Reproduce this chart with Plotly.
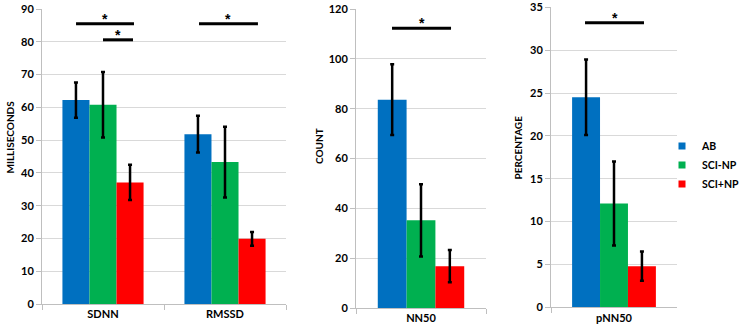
import plotly.graph_objects as go

# ---------------- data ----------------
groups = ["AB", "SCI-NP", "SCI+NP"]
colors = ["#0070C0", "#00B050", "#FF0000"]

left_cats = ["SDNN", "RMSSD"]
left_vals = {"AB": [62.2, 51.8], "SCI-NP": [60.8, 43.3], "SCI+NP": [37.1, 19.9]}
left_err = {"AB": [5.4, 5.6], "SCI-NP": [10.0, 10.8], "SCI+NP": [5.4, 2.1]}

mid_cats = ["NN50"]
mid_vals = {"AB": [83.6], "SCI-NP": [35.2], "SCI+NP": [16.8]}
mid_err = {"AB": [14.2], "SCI-NP": [14.5], "SCI+NP": [6.5]}

right_cats = ["pNN50"]
right_vals = {"AB": [24.5], "SCI-NP": [12.1], "SCI+NP": [4.8]}
right_err = {"AB": [4.4], "SCI-NP": [4.9], "SCI+NP": [1.7]}

# significance bars: (axis suffix, category index, y value, start offset, end offset)
sig_bars = [
    ("", 0, 85.5, -0.221, 0.254),
    ("", 0, 80.6, 0.0, 0.246),
    ("", 1, 85.5, -0.213, 0.27),
    ("2", 0, 112.3, -0.223, 0.231),
    ("3", 0, 33.2, -0.23, 0.238),
]

panels = [
    ("", left_cats, left_vals, left_err, "MILLISECONDS", [0, 90], 10),
    ("2", mid_cats, mid_vals, mid_err, "COUNT", [0, 120], 20),
    ("3", right_cats, right_vals, right_err, "PERCENTAGE", [0, 35], 5),
]

FONT = "Lato, Liberation Sans, Arial"
W, H = 743, 332
# plot area boxes in pixels (x0, x1, ytop, ybottom)
boxes = [(42, 286, 9, 304), (356, 486, 9, 308), (551, 677, 7.3, 307.3)]
title_pos = [(9.5, 137), (319, 146), (517, 147.5)]

fig = go.Figure()
for (suf, cats, vals, errs, ttl, rng, dt), (x0, x1, yt, yb), (tx, ty) in zip(panels, boxes, title_pos):
    for g, c in zip(groups, colors):
        fig.add_trace(go.Bar(
            x=cats, y=vals[g], name=g, marker=dict(color=c, line=dict(width=0)),
            error_y=dict(type="data", array=errs[g], color="black", thickness=2.5, width=2),
            xaxis="x" + suf, yaxis="y" + suf, showlegend=False,
        ))
    tickfont = dict(family=FONT, size=11, color="black", weight="bold")
    fig.update_layout(**{
        "xaxis" + suf: dict(domain=[x0 / W, x1 / W], anchor="y" + suf,
                            range=[-0.5, len(cats) - 0.5], automargin=False,
                            showline=True, linecolor="#BFBFBF", linewidth=1,
                            ticks="outside", tickson="boundaries", ticklen=5,
                            tickcolor="#BFBFBF", tickfont=tickfont, showgrid=False),
        "yaxis" + suf: dict(domain=[(H - yb) / H, (H - yt) / H], anchor="x" + suf,
                            range=rng, dtick=dt, showline=True, linecolor="#BFBFBF",
                            linewidth=1, ticks="outside", ticklen=5, tickcolor="#BFBFBF",
                            gridcolor="#D9D9D9", gridwidth=1, tickfont=tickfont,
                            zeroline=False, automargin=False),
    })
    fig.add_annotation(x=tx / W, y=(H - ty) / H, xref="paper", yref="paper",
                       xanchor="center", yanchor="middle",
                       text="<b>%s</b>" % ttl, textangle=-90, showarrow=False,
                       font=dict(family=FONT, size=10, color="black"))

for suf, ci, yv, a, b in sig_bars:
    fig.add_shape(type="line", xref="x" + suf, yref="y" + suf, x0=ci + a, x1=ci + b,
                  y0=yv, y1=yv, line=dict(color="black", width=3))
    fig.add_annotation(xref="x" + suf, yref="y" + suf, x=ci + (a + b) / 2, y=yv,
                       text="<b>*</b>", showarrow=False, yanchor="middle", yshift=5,
                       font=dict(family="Liberation Sans", size=14, color="black"))

# legend entries
for g, c in zip(groups, colors):
    fig.add_trace(go.Scatter(x=[None], y=[None], mode="markers", name="<b>%s</b>" % g,
                             marker=dict(symbol="square", size=7, color=c),
                             xaxis="x3", yaxis="y3", showlegend=True))

fig.update_layout(
    width=W, height=H, margin=dict(l=0, r=0, t=0, b=0, autoexpand=False),
    paper_bgcolor="white", plot_bgcolor="white",
    barmode="group", bargap=0.335, bargroupgap=0,
    legend=dict(x=(702 - 40) / W, y=1 - 165 / H, xanchor="left", yanchor="middle",
                bgcolor="rgba(0,0,0,0)", tracegroupgap=0,
                font=dict(family=FONT, size=10.5, color="black")),
    font=dict(family=FONT, color="black"),
)

fig.write_html("out.html", config={"displayModeBar": False},
               post_script="document.body.style.margin='0';document.body.style.overflow='hidden';")
